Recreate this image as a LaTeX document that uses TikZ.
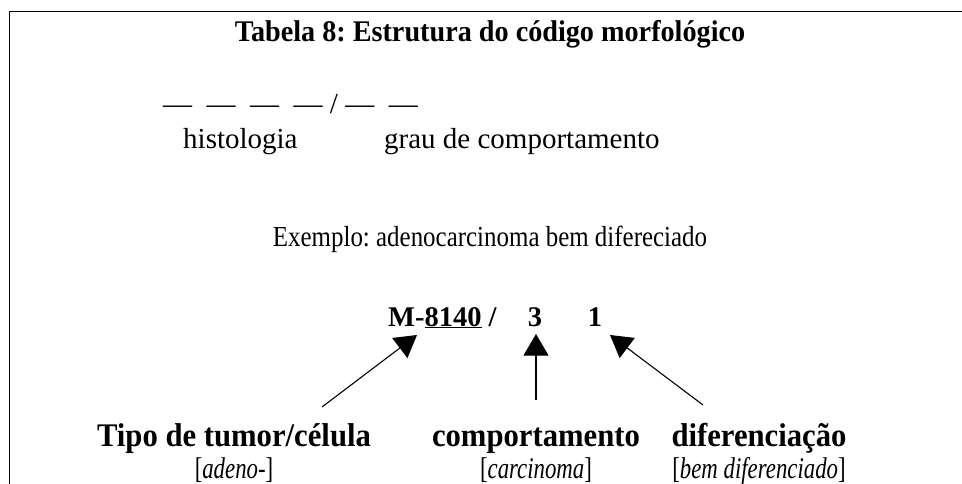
\documentclass[tikz,border=0pt]{standalone}
\usepackage{fontspec}
\setmainfont{Liberation Serif}
\newfontfamily\titlefont[FakeStretch=0.94]{Liberation Serif}
\newfontfamily\narrowfont[FakeStretch=0.86]{Liberation Serif}
\newfontfamily\labelfont[FakeStretch=0.93]{Liberation Serif}
\newfontfamily\notefont[FakeStretch=0.76]{Liberation Serif}
\usetikzlibrary{arrows.meta,positioning}
\frenchspacing

\begin{document}
\begin{tikzpicture}[x=1pt,y=-1pt,
    txt/.style={inner sep=0pt,font=\fontsize{29}{34}\selectfont},
    bold/.style={inner sep=0pt,font=\fontsize{28.5}{34}\selectfont\bfseries},
    pointer/.style={line width=1.1pt,-{Triangle[length=21.6pt,width=25pt]}}]
 \useasboundingbox (0,0) rectangle (962,484);
 % open frame, only top and left
 \draw[line width=1.5pt] (962,11.5) -- (9.5,11.5) -- (9.5,484);
 \node[bold,anchor=base,font=\fontsize{30}{34}\titlefont\bfseries] (title) at (490,42)
   {Tabela 8: Estrutura do código morfológico};
 % code pattern
 \node[txt,anchor=base west] (pattern) at (163,114) {—\ \ —\ \ —\ \ —\ /\ —\ \ —};
 \node[txt,anchor=base west] (histo) at (183,149) {histologia};
 \node[txt,anchor=base west] (grade) at (384,149) {grau de comportamento};
 \node[txt,anchor=base,font=\fontsize{29}{34}\narrowfont] (example) at (490,247)
   {Exemplo: adenocarcinoma bem difereciado};
 % example code
 \node[bold,anchor=base west] (code) at (388,326) {M-\underline{8140} /};
 \node[bold,anchor=base] (behav) at (535,326) {3};
 \node[bold,anchor=base] (diff) at (595,326) {1};
 % labels below
 \foreach \N/\X/\A/\B in {tumor/234/Tipo de tumor\slash célula/adeno-,
                          carc/536/comportamento/carcinoma,
                          grau/759/diferenciação/bem diferenciado}
 {\node[bold,anchor=base,font=\fontsize{33}{36}\labelfont\bfseries] (\N) at (\X,446) {\A};
  \node[txt,anchor=base,font=\fontsize{30}{32}\notefont] (\N-ex) at (\X,478) {[\textit{\B}]};}
 \coordinate (tipA) at (417,335);
 \coordinate (tipB) at (536,334);
 \coordinate (tipC) at (610,335);
 \coordinate (endA) at (322,407);
 \coordinate (endB) at (536,400);
 \coordinate (endC) at (703,405);
 \draw[pointer] (endA) -- (tipA);
 \draw[pointer] (endB) -- (tipB);
 \draw[pointer] (endC) -- (tipC);
\end{tikzpicture}
\end{document}
